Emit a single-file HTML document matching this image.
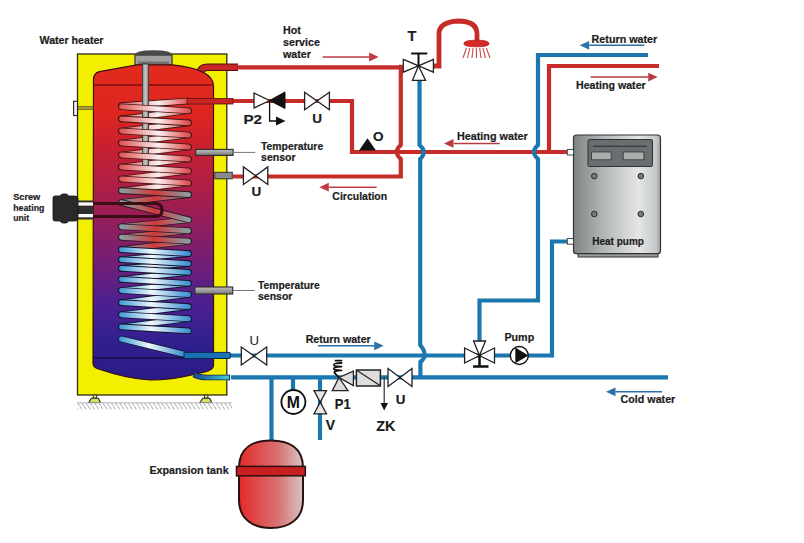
<!DOCTYPE html>
<html><head><meta charset="utf-8"><style>
html,body{margin:0;padding:0;background:#fff;width:804px;height:543px;overflow:hidden}
svg{display:block}
</style></head><body>
<svg width="804" height="543" viewBox="0 0 804 543" font-family="'Liberation Sans', sans-serif" font-weight="bold">
<defs>
<linearGradient id="tankG" x1="0" y1="0" x2="0" y2="1">
<stop offset="0" stop-color="#e32a1d"/>
<stop offset="0.16" stop-color="#dc261f"/>
<stop offset="0.26" stop-color="#c82030"/>
<stop offset="0.44" stop-color="#a21e50"/>
<stop offset="0.6" stop-color="#7a1e70"/>
<stop offset="0.76" stop-color="#4c2090"/>
<stop offset="0.88" stop-color="#30208e"/>
<stop offset="1" stop-color="#2a1b86"/>
</linearGradient>
<linearGradient id="pinkG" x1="0" y1="0" x2="1" y2="0">
<stop offset="0" stop-color="#e25a58"/>
<stop offset="0.55" stop-color="#fbf0f0"/>
<stop offset="1" stop-color="#e05050"/>
</linearGradient>
<linearGradient id="blueG" x1="0" y1="0" x2="1" y2="0">
<stop offset="0" stop-color="#48a0d8"/>
<stop offset="0.45" stop-color="#f0f8fc"/>
<stop offset="1" stop-color="#3e92d2"/>
</linearGradient>
<linearGradient id="greyG" x1="0" y1="0" x2="1" y2="0">
<stop offset="0" stop-color="#8a9ea2"/>
<stop offset="0.5" stop-color="#d2383a"/>
<stop offset="1" stop-color="#8a9ea2"/>
</linearGradient>
<linearGradient id="hpG" x1="0" y1="0" x2="1" y2="0">
<stop offset="0" stop-color="#7e8484"/>
<stop offset="0.35" stop-color="#b4b8b8"/>
<stop offset="0.75" stop-color="#e4e6e4"/>
<stop offset="0.95" stop-color="#c4c8c8"/>
<stop offset="1" stop-color="#a0a4a4"/>
</linearGradient>
<linearGradient id="expG" x1="0" y1="0" x2="1" y2="0">
<stop offset="0" stop-color="#e52a2a"/>
<stop offset="0.6" stop-color="#d87070"/>
<stop offset="1" stop-color="#d8c4c4"/>
</linearGradient>
<linearGradient id="rodG" x1="0" y1="0" x2="0" y2="1">
<stop offset="0" stop-color="#c0c0c0"/>
<stop offset="1" stop-color="#7a7a7a"/>
</linearGradient>
<linearGradient id="rodV" x1="0" y1="0" x2="1" y2="0">
<stop offset="0" stop-color="#8a8a8a"/><stop offset="0.5" stop-color="#c8c8c8"/><stop offset="1" stop-color="#7a7a7a"/>
</linearGradient>
<linearGradient id="cyanG" gradientUnits="userSpaceOnUse" x1="194" y1="0" x2="230" y2="0">
<stop offset="0" stop-color="#1a4a90"/><stop offset="1" stop-color="#40d0d8"/>
</linearGradient>
<pattern id="hatch" width="4.2" height="7" patternUnits="userSpaceOnUse">
<path d="M0 0 L4 7" stroke="#a8a8a8" stroke-width="0.9"/>
</pattern>
</defs>

<rect x="77.5" y="54" width="149.3" height="341" fill="#f3ef00" stroke="#2e2a10" stroke-width="1.3"/>
<path d="M199.5 76 Q199.5 67.3 208 67.3 H238" fill="none" stroke="#4a1010" stroke-width="7.6"/>
<path d="M199.5 76 Q199.5 67.3 208 67.3 H238" fill="none" stroke="#c82626" stroke-width="5.6"/>
<path d="M135 55 H172 V65 H135 Z" fill="#a0a0a0" stroke="#333" stroke-width="1.2"/>
<path d="M134.5 55.5 Q135 50.3 153.5 50.3 Q172 50.3 172.5 55.5 Z" fill="#484848"/>
<rect x="138" y="61.5" width="31" height="3.5" fill="#707070"/>
<path d="M93.5 80 Q93.5 72.8 99.5 71.6 L137 64.8 H172 Q213.5 69 213.5 86 V366 Q213 370 205 372 L194 374.5 Q172 380 150 380 Q128 379 100 369.5 Q93.5 368 93 364 Z" fill="url(#tankG)" stroke="#3a1010" stroke-width="1.2"/>
<line x1="93" y1="85" x2="214" y2="85" stroke="#7a1010" stroke-width="1.4"/>
<line x1="93" y1="358" x2="214" y2="358" stroke="#1a1050" stroke-width="1.4"/>
<rect x="142.5" y="64" width="6" height="104" fill="#a8a8a8" stroke="#444" stroke-width="1"/>
<rect x="77.5" y="106.4" width="15.5" height="3.3" fill="#a89a38" stroke="#6a5a20" stroke-width="0.7"/>
<rect x="73.6" y="101.3" width="3.9" height="14.2" fill="#eeeef8" stroke="#222" stroke-width="1.1"/>
<g><line x1="188.5" y1="101" x2="121.5" y2="105.6" stroke="#3e1414" stroke-width="6.6000000000000005" stroke-linecap="round"/><line x1="188.5" y1="101" x2="121.5" y2="105.6" stroke="url(#pinkG)" stroke-width="4.9" stroke-linecap="round"/><line x1="188.5" y1="110.8" x2="121.5" y2="118.9" stroke="#3e1414" stroke-width="6.6000000000000005" stroke-linecap="round"/><line x1="188.5" y1="110.8" x2="121.5" y2="118.9" stroke="url(#pinkG)" stroke-width="4.9" stroke-linecap="round"/><line x1="188.5" y1="122.9" x2="121.5" y2="131" stroke="#3e1414" stroke-width="6.6000000000000005" stroke-linecap="round"/><line x1="188.5" y1="122.9" x2="121.5" y2="131" stroke="url(#pinkG)" stroke-width="4.9" stroke-linecap="round"/><line x1="188.5" y1="135" x2="121.5" y2="143" stroke="#3e1414" stroke-width="6.6000000000000005" stroke-linecap="round"/><line x1="188.5" y1="135" x2="121.5" y2="143" stroke="url(#pinkG)" stroke-width="4.9" stroke-linecap="round"/><line x1="188.5" y1="147" x2="121.5" y2="155" stroke="#3e1414" stroke-width="6.6000000000000005" stroke-linecap="round"/><line x1="188.5" y1="147" x2="121.5" y2="155" stroke="url(#pinkG)" stroke-width="4.9" stroke-linecap="round"/><line x1="188.5" y1="159" x2="121.5" y2="167" stroke="#3e1414" stroke-width="6.6000000000000005" stroke-linecap="round"/><line x1="188.5" y1="159" x2="121.5" y2="167" stroke="url(#pinkG)" stroke-width="4.9" stroke-linecap="round"/><line x1="188.5" y1="171" x2="121.5" y2="179" stroke="#3e1414" stroke-width="6.6000000000000005" stroke-linecap="round"/><line x1="188.5" y1="171" x2="121.5" y2="179" stroke="url(#pinkG)" stroke-width="4.9" stroke-linecap="round"/><line x1="188.5" y1="183" x2="121.5" y2="190.6" stroke="#3e1414" stroke-width="6.6000000000000005" stroke-linecap="round"/><line x1="188.5" y1="183" x2="121.5" y2="190.6" stroke="url(#pinkG)" stroke-width="4.9" stroke-linecap="round"/><line x1="188.5" y1="194.6" x2="121.5" y2="202.5" stroke="#2a1a22" stroke-width="6.6000000000000005" stroke-linecap="round"/><line x1="188.5" y1="194.6" x2="121.5" y2="202.5" stroke="url(#greyG)" stroke-width="4.9" stroke-linecap="round"/><line x1="188.5" y1="219.8" x2="121.5" y2="226.7" stroke="#2a1a22" stroke-width="6.6000000000000005" stroke-linecap="round"/><line x1="188.5" y1="219.8" x2="121.5" y2="226.7" stroke="url(#greyG)" stroke-width="4.9" stroke-linecap="round"/><line x1="188.5" y1="230.7" x2="121.5" y2="237.2" stroke="#2a1a22" stroke-width="6.6000000000000005" stroke-linecap="round"/><line x1="188.5" y1="230.7" x2="121.5" y2="237.2" stroke="url(#greyG)" stroke-width="4.9" stroke-linecap="round"/><line x1="188.5" y1="241.2" x2="121.5" y2="249.6" stroke="#2a1a22" stroke-width="6.6000000000000005" stroke-linecap="round"/><line x1="188.5" y1="241.2" x2="121.5" y2="249.6" stroke="url(#greyG)" stroke-width="4.9" stroke-linecap="round"/><line x1="188.5" y1="253.6" x2="121.5" y2="259.6" stroke="#141430" stroke-width="6.6000000000000005" stroke-linecap="round"/><line x1="188.5" y1="253.6" x2="121.5" y2="259.6" stroke="url(#blueG)" stroke-width="4.9" stroke-linecap="round"/><line x1="188.5" y1="263.6" x2="121.5" y2="268.4" stroke="#141430" stroke-width="6.6000000000000005" stroke-linecap="round"/><line x1="188.5" y1="263.6" x2="121.5" y2="268.4" stroke="url(#blueG)" stroke-width="4.9" stroke-linecap="round"/><line x1="188.5" y1="272.4" x2="121.5" y2="279.4" stroke="#141430" stroke-width="6.6000000000000005" stroke-linecap="round"/><line x1="188.5" y1="272.4" x2="121.5" y2="279.4" stroke="url(#blueG)" stroke-width="4.9" stroke-linecap="round"/><line x1="188.5" y1="283.4" x2="121.5" y2="290.5" stroke="#141430" stroke-width="6.6000000000000005" stroke-linecap="round"/><line x1="188.5" y1="283.4" x2="121.5" y2="290.5" stroke="url(#blueG)" stroke-width="4.9" stroke-linecap="round"/><line x1="188.5" y1="294.5" x2="121.5" y2="302.6" stroke="#141430" stroke-width="6.6000000000000005" stroke-linecap="round"/><line x1="188.5" y1="294.5" x2="121.5" y2="302.6" stroke="url(#blueG)" stroke-width="4.9" stroke-linecap="round"/><line x1="188.5" y1="306.6" x2="121.5" y2="314.8" stroke="#141430" stroke-width="6.6000000000000005" stroke-linecap="round"/><line x1="188.5" y1="306.6" x2="121.5" y2="314.8" stroke="url(#blueG)" stroke-width="4.9" stroke-linecap="round"/><line x1="188.5" y1="318.8" x2="121.5" y2="326.9" stroke="#141430" stroke-width="6.6000000000000005" stroke-linecap="round"/><line x1="188.5" y1="318.8" x2="121.5" y2="326.9" stroke="url(#blueG)" stroke-width="4.9" stroke-linecap="round"/></g>
<rect x="142.5" y="64" width="6" height="104" fill="url(#rodV)" stroke="#444" stroke-width="1"/>
<g><line x1="121.5" y1="106.8" x2="188.5" y2="110.8" stroke="#3e1414" stroke-width="6.6000000000000005" stroke-linecap="round"/><line x1="121.5" y1="106.8" x2="188.5" y2="110.8" stroke="url(#pinkG)" stroke-width="4.9" stroke-linecap="round"/><line x1="121.5" y1="118.9" x2="188.5" y2="122.9" stroke="#3e1414" stroke-width="6.6000000000000005" stroke-linecap="round"/><line x1="121.5" y1="118.9" x2="188.5" y2="122.9" stroke="url(#pinkG)" stroke-width="4.9" stroke-linecap="round"/><line x1="121.5" y1="131" x2="188.5" y2="135" stroke="#3e1414" stroke-width="6.6000000000000005" stroke-linecap="round"/><line x1="121.5" y1="131" x2="188.5" y2="135" stroke="url(#pinkG)" stroke-width="4.9" stroke-linecap="round"/><line x1="121.5" y1="143" x2="188.5" y2="147" stroke="#3e1414" stroke-width="6.6000000000000005" stroke-linecap="round"/><line x1="121.5" y1="143" x2="188.5" y2="147" stroke="url(#pinkG)" stroke-width="4.9" stroke-linecap="round"/><line x1="121.5" y1="155" x2="188.5" y2="159" stroke="#3e1414" stroke-width="6.6000000000000005" stroke-linecap="round"/><line x1="121.5" y1="155" x2="188.5" y2="159" stroke="url(#pinkG)" stroke-width="4.9" stroke-linecap="round"/><line x1="121.5" y1="167" x2="188.5" y2="171" stroke="#3e1414" stroke-width="6.6000000000000005" stroke-linecap="round"/><line x1="121.5" y1="167" x2="188.5" y2="171" stroke="url(#pinkG)" stroke-width="4.9" stroke-linecap="round"/><line x1="121.5" y1="179" x2="188.5" y2="183" stroke="#3e1414" stroke-width="6.6000000000000005" stroke-linecap="round"/><line x1="121.5" y1="179" x2="188.5" y2="183" stroke="url(#pinkG)" stroke-width="4.9" stroke-linecap="round"/><line x1="121.5" y1="190.6" x2="188.5" y2="194.6" stroke="#2a1a22" stroke-width="6.6000000000000005" stroke-linecap="round"/><line x1="121.5" y1="190.6" x2="188.5" y2="194.6" stroke="url(#greyG)" stroke-width="4.9" stroke-linecap="round"/><line x1="121.5" y1="202.5" x2="188.5" y2="219.8" stroke="#2a1a22" stroke-width="6.6000000000000005" stroke-linecap="round"/><line x1="121.5" y1="202.5" x2="188.5" y2="219.8" stroke="url(#greyG)" stroke-width="4.9" stroke-linecap="round"/><line x1="121.5" y1="226.7" x2="188.5" y2="230.7" stroke="#2a1a22" stroke-width="6.6000000000000005" stroke-linecap="round"/><line x1="121.5" y1="226.7" x2="188.5" y2="230.7" stroke="url(#greyG)" stroke-width="4.9" stroke-linecap="round"/><line x1="121.5" y1="237.2" x2="188.5" y2="241.2" stroke="#2a1a22" stroke-width="6.6000000000000005" stroke-linecap="round"/><line x1="121.5" y1="237.2" x2="188.5" y2="241.2" stroke="url(#greyG)" stroke-width="4.9" stroke-linecap="round"/><line x1="121.5" y1="249.6" x2="188.5" y2="253.6" stroke="#141430" stroke-width="6.6000000000000005" stroke-linecap="round"/><line x1="121.5" y1="249.6" x2="188.5" y2="253.6" stroke="url(#blueG)" stroke-width="4.9" stroke-linecap="round"/><line x1="121.5" y1="259.6" x2="188.5" y2="263.6" stroke="#141430" stroke-width="6.6000000000000005" stroke-linecap="round"/><line x1="121.5" y1="259.6" x2="188.5" y2="263.6" stroke="url(#blueG)" stroke-width="4.9" stroke-linecap="round"/><line x1="121.5" y1="268.4" x2="188.5" y2="272.4" stroke="#141430" stroke-width="6.6000000000000005" stroke-linecap="round"/><line x1="121.5" y1="268.4" x2="188.5" y2="272.4" stroke="url(#blueG)" stroke-width="4.9" stroke-linecap="round"/><line x1="121.5" y1="279.4" x2="188.5" y2="283.4" stroke="#141430" stroke-width="6.6000000000000005" stroke-linecap="round"/><line x1="121.5" y1="279.4" x2="188.5" y2="283.4" stroke="url(#blueG)" stroke-width="4.9" stroke-linecap="round"/><line x1="121.5" y1="290.5" x2="188.5" y2="294.5" stroke="#141430" stroke-width="6.6000000000000005" stroke-linecap="round"/><line x1="121.5" y1="290.5" x2="188.5" y2="294.5" stroke="url(#blueG)" stroke-width="4.9" stroke-linecap="round"/><line x1="121.5" y1="302.6" x2="188.5" y2="306.6" stroke="#141430" stroke-width="6.6000000000000005" stroke-linecap="round"/><line x1="121.5" y1="302.6" x2="188.5" y2="306.6" stroke="url(#blueG)" stroke-width="4.9" stroke-linecap="round"/><line x1="121.5" y1="314.8" x2="188.5" y2="318.8" stroke="#141430" stroke-width="6.6000000000000005" stroke-linecap="round"/><line x1="121.5" y1="314.8" x2="188.5" y2="318.8" stroke="url(#blueG)" stroke-width="4.9" stroke-linecap="round"/><line x1="121.5" y1="326.9" x2="188.5" y2="330.9" stroke="#141430" stroke-width="6.6000000000000005" stroke-linecap="round"/><line x1="121.5" y1="326.9" x2="188.5" y2="330.9" stroke="url(#blueG)" stroke-width="4.9" stroke-linecap="round"/><line x1="121.5" y1="339" x2="183" y2="354" stroke="#141430" stroke-width="6.6000000000000005" stroke-linecap="round"/><line x1="121.5" y1="339" x2="183" y2="354" stroke="url(#blueG)" stroke-width="4.9" stroke-linecap="round"/></g>
<path d="M93.2 395 H96.6 V398.3 H93.2 Z M204.5 395 H207.9 V398.3 H204.5 Z" fill="#e8e070" stroke="#333" stroke-width="1"/>
<path d="M88.6 402.5 L91.5 398.3 H98.3 L100.5 402.5 Z M199.9 402.5 L202.8 398.3 H209.6 L211.8 402.5 Z" fill="#e0e060" stroke="#222" stroke-width="1.1"/>
<line x1="77" y1="402.8" x2="232" y2="402.8" stroke="#b8b8b8" stroke-width="1"/>
<rect x="77" y="403" width="155" height="6.5" fill="url(#hatch)"/>
<path d="M238 67.3 H401" fill="none" stroke="#c62d2a" stroke-width="4.2" stroke-linejoin="miter" stroke-linecap="butt"/>
<path d="M233 101 H352 V152 H567" fill="none" stroke="#c62d2a" stroke-width="4.2" stroke-linejoin="miter" stroke-linecap="butt"/>
<path d="M400.8 64.7 V145 Q392.8 152 400.8 159 V176.5 H233" fill="none" stroke="#c62d2a" stroke-width="4.2" stroke-linejoin="miter" stroke-linecap="butt"/>
<path d="M549 152 V66 H659" fill="none" stroke="#c62d2a" stroke-width="4.2" stroke-linejoin="miter" stroke-linecap="butt"/>
<path d="M433 66 H439 V34 Q439 22 458 21 Q477 21 477 34 V41" fill="none" stroke="#c62d2a" stroke-width="4.8" stroke-linejoin="miter" stroke-linecap="butt"/>
<rect x="187" y="98.5" width="46" height="5.5" fill="#c82424" stroke="#5a1010" stroke-width="0.8"/>
<path d="M419.5 80 V145 Q427.8 152 420.2 159 V345 Q429 355.5 420.4 362 V377" fill="none" stroke="#1b77ae" stroke-width="4.2" stroke-linejoin="miter" stroke-linecap="butt"/>
<path d="M231 355.5 H479.5 M494.5 355.5 H552 V241.5 H567" fill="none" stroke="#1b77ae" stroke-width="4.2" stroke-linejoin="miter" stroke-linecap="butt"/>
<path d="M479.5 341 V300.5 H538 V159 Q530 152 538 145 V55 H648" fill="none" stroke="#1b77ae" stroke-width="4.2" stroke-linejoin="miter" stroke-linecap="butt"/>
<path d="M231 377.3 H668" fill="none" stroke="#1b77ae" stroke-width="4.2" stroke-linejoin="miter" stroke-linecap="butt"/>
<path d="M271.5 377 V440" fill="none" stroke="#1b77ae" stroke-width="4.2" stroke-linejoin="miter" stroke-linecap="butt"/>
<path d="M293 377 V390" fill="none" stroke="#1b77ae" stroke-width="4.2" stroke-linejoin="miter" stroke-linecap="butt"/>
<path d="M320 377 V440" fill="none" stroke="#1b77ae" stroke-width="4.2" stroke-linejoin="miter" stroke-linecap="butt"/>
<path d="M184 352.4 H229 Q230.5 352.4 230.5 354 V357 Q230.5 358.5 229 358.5 H184 Z" fill="#1a72b2" stroke="#0c2a50" stroke-width="1"/>
<path d="M194 374.5 Q199 377.5 207 377.5 H230" fill="none" stroke="#0e2a50" stroke-width="5.6"/>
<path d="M194 374.5 Q199 377.5 207 377.5 H230" fill="none" stroke="url(#cyanG)" stroke-width="3.8"/>
<path d="M229.5 374.7 h0 V380.3" stroke="#0e2a50" stroke-width="1"/>
<rect x="195.7" y="149.4" width="37.4" height="6" fill="url(#rodG)" stroke="#2a2a2a" stroke-width="1.1"/>
<line x1="233" y1="152.4" x2="255.3" y2="152.4" stroke="#777" stroke-width="1"/>
<rect x="214.8" y="172.3" width="17.5" height="6.5" fill="#8a8a8a" stroke="#333" stroke-width="1"/>
<rect x="194.9" y="287" width="37.8" height="7" fill="url(#rodG)" stroke="#2a2a2a" stroke-width="1.1"/>
<line x1="232.7" y1="290.5" x2="254.6" y2="290.5" stroke="#777" stroke-width="1"/>
<path d="M93 203.5 H156 Q162 204 162 210 Q162 216.5 156 216.5 H93" fill="none" stroke="#3a0e14" stroke-width="3.2"/>
<rect x="77" y="200.5" width="16" height="19" fill="#2e2e2e"/>
<rect x="77" y="202.4" width="16" height="3.2" fill="#fafafa"/>
<rect x="77" y="214" width="16" height="3.3" fill="#fafafa"/>
<path d="M53 198 Q53 196 55 196 H60 Q61 194 63 194 H66 Q68 194 68 196 H75 Q78 196 78 199 V218 Q78 221 75 221 H68 Q68 223 66 223 H63 Q61 223 60 221 H55 Q53 221 53 219 Z" fill="#2a2a2a" stroke="#111" stroke-width="0.8"/>
<path d="M254 93 L269.6 100.5 L254 108 Z" fill="#fff" stroke="#222" stroke-width="1.3"/>
<path d="M285 92 L269.6 100.5 L285 108.5 Z" fill="#111" stroke="#111" stroke-width="1"/>
<path d="M269.6 100.5 V121 H278" fill="none" stroke="#111" stroke-width="1.3"/>
<path d="M276 116.5 L285.5 121 L276 125.5 Z" fill="#111"/>
<path d="M304.6 92.3 L317 101 L304.6 109.7 Z M329.4 92.3 L317 101 L329.4 109.7 Z" fill="#fff" stroke="#222" stroke-width="1.3"/>
<path d="M243.4 166.89999999999998 L255.6 175.7 L243.4 184.5 Z M267.8 166.89999999999998 L255.6 175.7 L267.8 184.5 Z" fill="#fff" stroke="#222" stroke-width="1.3"/>
<path d="M241.3 347 L254 356 L241.3 365 Z M266.7 347 L254 356 L266.7 365 Z" fill="#fff" stroke="#222" stroke-width="1.3"/>
<path d="M388 368.5 L400 377.5 L388 386.5 Z M412 368.5 L400 377.5 L412 386.5 Z" fill="#fff" stroke="#222" stroke-width="1.3"/>
<path d="M359 150.5 L367.5 138.3 L376 150.5 Z" fill="#111"/>
<path d="M403.3 59.4 L418.5 65.8 L403.3 72.2 Z M433.4 59.4 L418.5 65.8 L433.4 72.2 Z M412.4 80.4 L418.5 65.8 L425.6 80.4 Z" fill="#fff" stroke="#222" stroke-width="1.3"/>
<path d="M411.2 53.4 H427.3 M418.5 53.4 V65.8" stroke="#111" stroke-width="2"/>
<path d="M463.8 43.6 Q464 40.2 476.4 40.2 Q488.8 40.2 489.1 43.6 Q488.8 46.8 476.4 46.8 Q464 46.8 463.8 43.6 Z" fill="#d82828" stroke="#b81c1c" stroke-width="0.8"/>
<g stroke="#c84848" stroke-width="1.1"><line x1="466.5" y1="48" x2="463.0" y2="58"/><line x1="469.8" y1="48" x2="467.5" y2="58"/><line x1="473.1" y1="48" x2="472.0" y2="58"/><line x1="476.4" y1="48" x2="476.5" y2="58"/><line x1="479.7" y1="48" x2="481.0" y2="58"/><line x1="483.0" y1="48" x2="485.5" y2="58"/><line x1="486.3" y1="48" x2="490.0" y2="58"/></g>
<path d="M464.6 348 L479.5 355.5 L464.6 363 Z M494.5 348 L479.5 355.5 L494.5 363 Z M473.6 341 L479.5 355.5 L485.5 341 Z" fill="#fff" stroke="#222" stroke-width="1.3"/>
<path d="M479.5 355.5 V366 M473 366.5 H488.5" stroke="#111" stroke-width="2.5"/>
<circle cx="519.3" cy="355.5" r="9" fill="#fff" stroke="#111" stroke-width="1.4"/>
<path d="M515.3 347.6 L528.4 355.5 L515.3 363.2 Z" fill="#111"/>
<path d="M353.4 371.2 L339 377.5 L353.4 385.6 Z M332.3 390.6 L339 377.5 L348 390.6 Z" fill="#ddd" stroke="#222" stroke-width="1.3"/>
<path d="M335.5 360.6 H341.5 M341.5 363 Q333.5 363 333.8 365 Q334.2 366.6 341.5 366.6 Q333.5 366.8 333.8 368.8 Q334.2 370.4 341.5 370.3 Q333.5 370.6 334.5 372.8 L338.5 377" fill="none" stroke="#111" stroke-width="1.8" stroke-linejoin="round" stroke-linecap="round"/>
<rect x="356.4" y="370" width="24" height="16" fill="#ddd" stroke="#222" stroke-width="1.5"/>
<line x1="357" y1="370.5" x2="380" y2="385.5" stroke="#222" stroke-width="1.2"/>
<path d="M384.2 377 V404" stroke="#333" stroke-width="1.2"/>
<path d="M380.5 403 L384.2 410.5 L388 403 Z" fill="#111"/>
<path d="M314 390.6 L320.2 402.2 L326.5 390.6 Z M314 413.8 L320.2 402.2 L326.5 413.8 Z" fill="#e6e6e6" stroke="#222" stroke-width="1.3"/>
<circle cx="293.4" cy="402" r="12" fill="#fff" stroke="#111" stroke-width="1.8"/>
<text x="293.4" y="407.9" font-size="15.8" text-anchor="middle" fill="#111">M</text>
<path d="M239 468 C239 447 254 440.5 271 440.5 C288 440.5 303 447 303 468 V500 C303 520 288 528 271 528 C254 528 239 520 239 500 Z" fill="url(#expG)" stroke="#2a1010" stroke-width="2"/>
<rect x="236.5" y="466.4" width="68.8" height="9.4" fill="#c82020" stroke="#2a1010" stroke-width="1.5"/>
<rect x="578" y="252" width="80" height="5" fill="#9a9c9c" stroke="#333" stroke-width="1"/>
<rect x="573.5" y="135" width="87" height="118.7" rx="3" fill="url(#hpG)" stroke="#333" stroke-width="1.2"/>
<rect x="588" y="139.5" width="64.5" height="27" rx="1.5" fill="#6a6e70" stroke="#333" stroke-width="1"/>
<line x1="593" y1="146.2" x2="647" y2="146.2" stroke="#2a2a2a" stroke-width="1"/>
<rect x="591.5" y="152" width="19.6" height="7.8" fill="#a8b0ae" stroke="#333" stroke-width="0.8"/>
<rect x="623.2" y="152" width="20.7" height="7.8" fill="#a8b0ae" stroke="#333" stroke-width="0.8"/>
<circle cx="594.3" cy="176.1" r="2.8" fill="#7a7a7a" stroke="#2a2a2a" stroke-width="1"/>
<circle cx="640.8" cy="176.1" r="2.8" fill="#7a7a7a" stroke="#2a2a2a" stroke-width="1"/>
<circle cx="594.3" cy="214" r="2.8" fill="#7a7a7a" stroke="#2a2a2a" stroke-width="1"/>
<circle cx="640.8" cy="214" r="2.8" fill="#7a7a7a" stroke="#2a2a2a" stroke-width="1"/>
<rect x="567.3" y="149.4" width="6.3" height="5.6" fill="#fff" stroke="#333" stroke-width="0.9"/>
<rect x="567.3" y="238.6" width="6.3" height="5.6" fill="#fff" stroke="#333" stroke-width="0.9"/>
<line x1="322.6" y1="57" x2="369.1" y2="57" stroke="#c03a44" stroke-width="1.5"/>
<path d="M369.1 52.6 L378.6 57 L369.1 61.4 Z" fill="#c03a44"/>
<line x1="499.7" y1="143.4" x2="453.5" y2="143.4" stroke="#b83a44" stroke-width="1.5"/>
<path d="M453.5 139.0 L444 143.4 L453.5 147.8 Z" fill="#b83a44"/>
<line x1="376.7" y1="187.2" x2="328.8" y2="187.2" stroke="#c03a44" stroke-width="1.5"/>
<path d="M328.8 182.79999999999998 L319.3 187.2 L328.8 191.6 Z" fill="#c03a44"/>
<line x1="644.4" y1="45.3" x2="589.2" y2="45.3" stroke="#2a72a8" stroke-width="1.5"/>
<path d="M589.2 40.9 L579.7 45.3 L589.2 49.699999999999996 Z" fill="#2a72a8"/>
<line x1="590.6" y1="77.1" x2="648.2" y2="77.1" stroke="#b83a44" stroke-width="1.5"/>
<path d="M648.2 72.69999999999999 L657.7 77.1 L648.2 81.5 Z" fill="#b83a44"/>
<line x1="318" y1="345.8" x2="374.2" y2="345.8" stroke="#2a72a8" stroke-width="1.5"/>
<path d="M374.2 341.40000000000003 L383.7 345.8 L374.2 350.2 Z" fill="#2a72a8"/>
<line x1="662" y1="391.8" x2="615.5" y2="391.8" stroke="#2a72a8" stroke-width="1.5"/>
<path d="M615.5 387.40000000000003 L606 391.8 L615.5 396.2 Z" fill="#2a72a8"/>
<g fill="#1c1c1c" stroke="#1c1c1c" stroke-width="0.2"><text x="39.5" y="43.7" font-size="10.7" textLength="64" lengthAdjust="spacingAndGlyphs">Water heater</text><text x="283" y="33.9" font-size="10.7">Hot</text><text x="283" y="45.7" font-size="10.7" textLength="37" lengthAdjust="spacingAndGlyphs">service</text><text x="283" y="57.6" font-size="10.7">water</text><text x="407.5" y="41.3" font-size="14.5">T</text><text x="591.6" y="42.9" font-size="10.49" textLength="65.7" lengthAdjust="spacingAndGlyphs">Return water</text><text x="576" y="88.7" font-size="10.49" textLength="69.7" lengthAdjust="spacingAndGlyphs">Heating water</text><text x="243.5" y="123.5" font-size="13.3" textLength="18.5" lengthAdjust="spacingAndGlyphs">P2</text><text x="312.3" y="122.7" font-size="13.5">U</text><text x="373" y="140.5" font-size="13.5">O</text><text x="457" y="139.9" font-size="11.13" textLength="70.7" lengthAdjust="spacingAndGlyphs">Heating water</text><text x="261" y="149.9" font-size="10.59" textLength="62.2" lengthAdjust="spacingAndGlyphs">Temperature</text><text x="261" y="161.1" font-size="10.59">sensor</text><text x="251.4" y="196.4" font-size="13.5">U</text><text x="332.3" y="200.3" font-size="10.91" textLength="54.9" lengthAdjust="spacingAndGlyphs">Circulation</text><text x="13.2" y="200.1" font-size="9.52" textLength="27" lengthAdjust="spacingAndGlyphs">Screw</text><text x="13.2" y="210.6" font-size="9.52" textLength="31.2" lengthAdjust="spacingAndGlyphs">heating</text><text x="13.2" y="220.6" font-size="9.52" textLength="16" lengthAdjust="spacingAndGlyphs">unit</text><text x="592.3" y="245" font-size="11.24" textLength="51.6" lengthAdjust="spacingAndGlyphs">Heat pump</text><text x="258" y="288.5" font-size="10.49" textLength="61.7" lengthAdjust="spacingAndGlyphs">Temperature</text><text x="258" y="299.5" font-size="10.49">sensor</text><text x="249.6" y="345.2" font-size="13.2" font-weight="normal" stroke-width="0">U</text><text x="305.7" y="342.8" font-size="10.49" textLength="65" lengthAdjust="spacingAndGlyphs">Return water</text><text x="504.4" y="341" font-size="11.13" textLength="29.8" lengthAdjust="spacingAndGlyphs">Pump</text><text x="334.8" y="409.3" font-size="13.8" textLength="15.8" lengthAdjust="spacingAndGlyphs">P1</text><text x="395.8" y="404.4" font-size="13.4">U</text><text x="325.7" y="430.4" font-size="14">V</text><text x="376.2" y="430.9" font-size="14.5" textLength="19.1" lengthAdjust="spacingAndGlyphs">ZK</text><text x="620.6" y="403.2" font-size="10.7" textLength="54.7" lengthAdjust="spacingAndGlyphs">Cold water</text><text x="149.4" y="474.2" font-size="11.24" textLength="79.2" lengthAdjust="spacingAndGlyphs">Expansion tank</text></g>
</svg></body></html>
